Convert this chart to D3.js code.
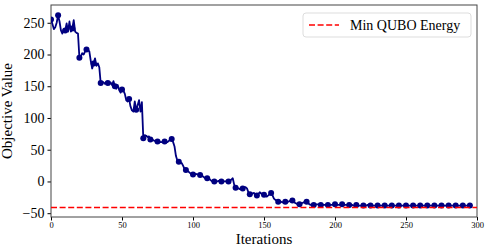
<!DOCTYPE html>
<html>
<head>
<meta charset="utf-8">
<script src="https://cdn.jsdelivr.net/npm/d3@7"></script>
<style>
  body { margin: 0; background: #fff; }
  text { font-family: "Liberation Serif", "DejaVu Serif", serif; }
</style>
</head>
<body>
<div id="chart"></div>
<script>

// ======================= //
// DATA
// ======================= //

// objective value at each iteration (0 .. 295)
var objValues = [
  255, 248, 240, 243, 250, 262, 252, 238, 233, 240,
  238, 249, 236, 252, 236, 241, 254, 236, 234, 233,
  195, 197, 202, 200, 205, 208, 207, 205, 190, 178,
  186, 194, 182, 186, 180, 155, 157, 156, 154, 157,
  155, 153, 156, 152, 158, 150, 146, 152, 144, 140,
  145, 143, 138, 128, 126, 130, 118, 112, 110, 126,
  113, 120, 128, 110, 125, 68, 73, 72, 70, 71,
  66, 67, 65, 64, 64, 63, 64, 62, 62, 63,
  63, 62, 62, 64, 66, 67, 62, 55, 40, 33,
  31, 30, 29, 25, 20, 18, 17, 15, 13, 12,
  11, 11, 12, 11, 11, 10, 9, 8, 6, 5,
  5, 4, 3, 1, 0, 0, 0, 0, 1, 0,
  0, 0, 0, 0, 1, 0, 1, 3, 5, -5,
  -10, -10, -11, -12, -12, -11, -10, -9, -11, -17,
  -20, -19, -19, -18, -22, -22, -20, -17, -19, -21,
  -21, -23, -24, -22, -20, -18, -22, -27, -29, -30,
  -32, -32, -32, -33, -32, -32, -33, -32, -31, -30,
  -30, -32, -34, -35, -36, -36, -35, -34, -33, -32,
  -32, -34, -36, -37, -37, -37, -37, -36, -36, -36,
  -37, -37, -37, -37, -37, -37, -37, -37, -37, -36,
  -36, -36, -37, -37, -37, -36, -37, -37, -37, -37,
  -37, -37, -37, -38, -38, -37, -38, -38, -38, -38,
  -38, -38, -38, -37, -38, -38, -38, -38, -38, -38,
  -38, -38, -38, -38, -38, -38, -38, -38, -38, -38,
  -38, -38, -38, -38, -38, -38, -38, -38, -38, -38,
  -38, -38, -38, -38, -38, -38, -38, -38, -38, -38,
  -38, -38, -38, -38, -38, -38, -38, -38, -38, -38,
  -38, -38, -38, -38, -38, -38, -38, -38, -38, -38,
  -38, -38, -38, -38, -38, -38, -38, -38, -38, -38,
  -38, -38, -38, -38, -38, -38
]

// a marker every 5 iterations
var markEvery = 5

// reference line
var minEnergy = -41
var legendLabel = "Min QUBO Energy"

// ticks
var xTicks = [0, 50, 100, 150, 200, 250, 300]
var yTicks = [-50, 0, 50, 100, 150, 200, 250]

var xLabel = "Iterations"
var yLabel = "Objective Value"


// ======================= //
// SVG AREA
// ======================= //

var margin = {top: 5, right: 12, bottom: 34, left: 51},
    width = 489 - margin.left - margin.right,
    height = 251 - margin.top - margin.bottom;

var svg = d3.select("#chart")
  .append("svg")
    .attr("width", width + margin.left + margin.right)
    .attr("height", height + margin.top + margin.bottom)
  .append("g")
    .attr("transform", "translate(" + margin.left + "," + margin.top + ")");

var x = d3.scaleLinear()
  .domain([0, 300])
  .range([0, width])

var y = d3.scaleLinear()
  .domain([-56, 278])
  .range([height, 0])

var fmt = function(d){ return d < 0 ? "\u2212" + Math.abs(d) : "" + d }


// ======================= //
// AXES
// ======================= //

var xAxis = svg.append("g")
  .attr("transform", "translate(0," + height + ")")
  .call(d3.axisBottom(x).tickValues(xTicks).tickSize(3.5).tickPadding(1).tickFormat(fmt))
xAxis.selectAll("text")
  .style("font-size", "8.5px")
  .attr("fill", "#000")

var yAxis = svg.append("g")
  .call(d3.axisLeft(y).tickValues(yTicks).tickSize(3.5).tickPadding(3).tickFormat(fmt))
yAxis.selectAll("text")
  .style("font-size", "14px")
  .attr("fill", "#000")

svg.selectAll(".domain").remove()

// frame
svg.append("rect")
  .attr("x", 0)
  .attr("y", 0)
  .attr("width", width)
  .attr("height", height)
  .attr("fill", "none")
  .attr("stroke", "#444")
  .attr("stroke-width", 1)

// axis titles
svg.append("text")
  .attr("text-anchor", "middle")
  .attr("x", width / 2)
  .attr("y", height + 27)
  .style("font-size", "15px")
  .text(xLabel)

svg.append("text")
  .attr("text-anchor", "middle")
  .attr("transform", "translate(" + (-39) + "," + (height / 2) + ") rotate(-90)")
  .style("font-size", "15px")
  .text(yLabel)


// ======================= //
// LINES AND MARKERS
// ======================= //

var clip = svg.append("clipPath").attr("id", "plotClip")
clip.append("rect").attr("width", width).attr("height", height)

var plot = svg.append("g").attr("clip-path", "url(#plotClip)")

var line = d3.line()
  .x(function(d, i){ return x(i) })
  .y(function(d){ return y(d) })

plot.append("path")
  .datum(objValues)
  .attr("d", line)
  .attr("fill", "none")
  .attr("stroke", "#000080")
  .attr("stroke-width", 1.8)
  .attr("stroke-linejoin", "round")

var marks = objValues
  .map(function(v, i){ return {it: i, v: v} })
  .filter(function(d){ return d.it % markEvery == 0 })

plot.selectAll("markers")
  .data(marks)
  .enter()
  .append("circle")
    .attr("cx", function(d){ return x(d.it) })
    .attr("cy", function(d){ return y(d.v) })
    .attr("r", 3)
    .attr("fill", "#000080")

plot.append("line")
  .attr("x1", 0)
  .attr("x2", width)
  .attr("y1", y(minEnergy))
  .attr("y2", y(minEnergy))
  .attr("stroke", "red")
  .attr("stroke-width", 1.5)
  .style("stroke-dasharray", "6, 2.6")


// ======================= //
// LEGEND
// ======================= //

var leg = svg.append("g")
  .attr("transform", "translate(" + (width - 174) + "," + 8 + ")")

leg.append("rect")
  .attr("width", 168)
  .attr("height", 24)
  .attr("rx", 3)
  .attr("fill", "#fff")
  .attr("stroke", "#ddd")
  .attr("stroke-width", 1)

leg.append("line")
  .attr("x1", 6)
  .attr("x2", 36)
  .attr("y1", 12)
  .attr("y2", 12)
  .attr("stroke", "red")
  .attr("stroke-width", 1.5)
  .style("stroke-dasharray", "6, 2.6")

leg.append("text")
  .attr("x", 47)
  .attr("y", 17)
  .style("font-size", "14px")
  .text(legendLabel)

</script>
</body>
</html>
